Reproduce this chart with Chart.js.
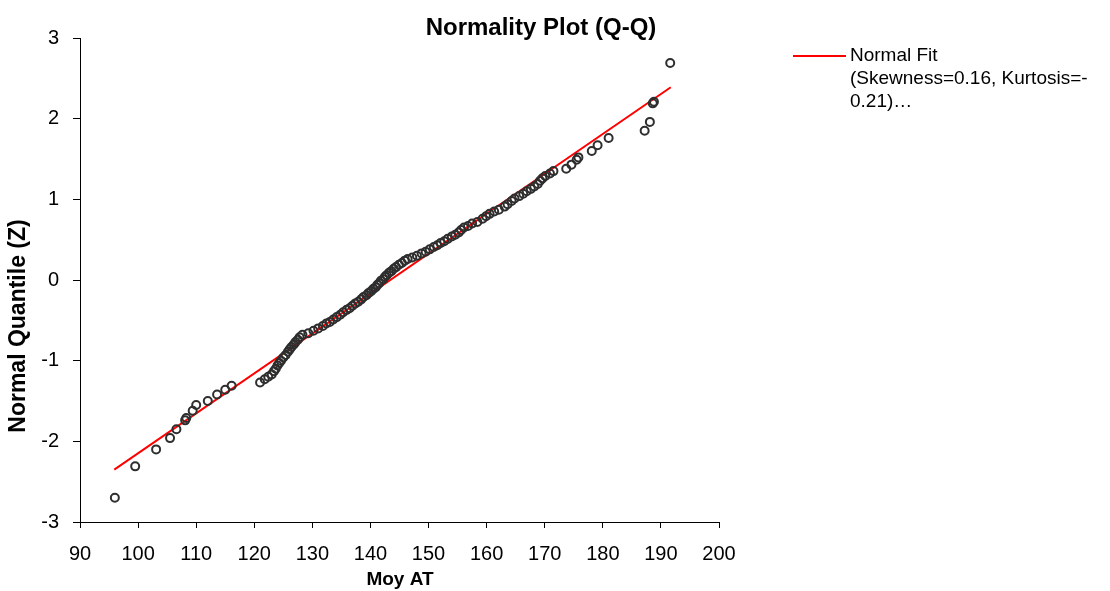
<!DOCTYPE html>
<html>
<head>
<meta charset="utf-8">
<script src="https://cdn.jsdelivr.net/npm/chart.js@4.4.1/dist/chart.umd.min.js"></script>
<style>
  html, body { margin: 0; padding: 0; background: #fff; }
  #wrap { position: relative; width: 1110px; height: 591px; }
</style>
</head>
<body>
<div id="wrap"><canvas id="qq" width="1110" height="591"></canvas></div>
<script>
// valeurs (Moy AT vs quantile normal)
var qqX = [
  96.0, 99.5, 103.1, 105.5, 106.6, 108.1, 108.3, 109.4, 110.0, 112.0,
  113.6, 115.0, 116.1, 121.0, 121.8, 122.4, 123.0, 123.4, 123.7, 124.0,
  124.3, 124.6, 125.0, 125.4, 125.8, 126.1, 126.4, 126.8, 127.1, 127.5,
  127.8, 128.3, 129.3, 130.2, 131.0, 131.8, 132.4, 133.0, 133.6, 134.2,
  134.8, 135.3, 135.9, 136.4, 136.9, 137.4, 137.9, 138.4, 138.8, 139.3,
  139.7, 140.1, 140.5, 140.9, 141.2, 141.5, 141.8, 142.2, 142.5, 142.8,
  143.2, 143.6, 144.0, 144.4, 144.9, 145.4, 145.9, 146.4, 147.2, 148.0,
  148.8, 149.5, 150.2, 150.9, 151.5, 152.1, 152.7, 153.3, 154.0, 154.6,
  155.2, 155.6, 156.1, 156.8, 157.5, 158.4, 159.3, 159.9, 160.5, 161.3,
  162.1, 163.1, 163.6, 164.3, 164.8, 165.6, 166.3, 166.9, 167.6, 168.2,
  168.8, 169.2, 169.6, 170.1, 170.9, 171.5, 173.7, 174.6, 175.5, 175.8,
  178.1, 179.1, 181.0, 187.2, 188.1, 188.6, 188.8, 191.6
];
var qqY = [
  -2.70, -2.31, -2.10, -1.96, -1.85, -1.74, -1.71, -1.62, -1.55, -1.50,
  -1.42, -1.36, -1.31, -1.27, -1.23, -1.20, -1.17, -1.13, -1.10, -1.06,
  -1.03, -1.00, -0.96, -0.93, -0.89, -0.86, -0.83, -0.80, -0.77, -0.74,
  -0.71, -0.68, -0.66, -0.63, -0.60, -0.57, -0.54, -0.52, -0.49, -0.46,
  -0.43, -0.40, -0.37, -0.35, -0.32, -0.29, -0.27, -0.24, -0.21, -0.19,
  -0.16, -0.14, -0.11, -0.09, -0.06, -0.04, -0.01, 0.01, 0.04, 0.06,
  0.09, 0.11, 0.14, 0.16, 0.19, 0.21, 0.24, 0.26, 0.28, 0.30,
  0.33, 0.35, 0.38, 0.41, 0.43, 0.46, 0.48, 0.51, 0.54, 0.56,
  0.59, 0.62, 0.65, 0.67, 0.70, 0.72, 0.76, 0.79, 0.82, 0.85,
  0.87, 0.91, 0.94, 0.98, 1.01, 1.04, 1.07, 1.10, 1.13, 1.16,
  1.19, 1.23, 1.26, 1.29, 1.32, 1.35, 1.38, 1.43, 1.49, 1.52,
  1.60, 1.67, 1.76, 1.85, 1.96, 2.19, 2.21, 2.69
];
// droite d'ajustement normal
var fitX = [95.9, 191.7];
var fitY = [-2.35, 2.39];
var xTicks = [90, 100, 110, 120, 130, 140, 150, 160, 170, 180, 190, 200];
var yTicks = [-3, -2, -1, 0, 1, 2, 3];

var FONT = '"Liberation Sans", Arial, sans-serif';

function pairs(xs, ys) {
  return xs.map(function (x, i) { return { x: x, y: ys[i] }; });
}

var textPlugin = {
  id: "qqText",
  afterDraw: function (chart) {
    var ctx = chart.ctx;
    ctx.save();
    ctx.fillStyle = "#000";
    ctx.textAlign = "center";
    ctx.textBaseline = "middle";
    ctx.font = "bold 24px " + FONT;
    ctx.fillText("Normality Plot (Q-Q)", 541, 28);
    ctx.font = "bold 19px " + FONT;
    ctx.fillText("Moy AT", 400, 580);
    ctx.save();
    ctx.translate(19, 326);
    ctx.rotate(-Math.PI / 2);
    ctx.font = "bold 23px " + FONT;
    ctx.fillText("Normal Quantile (Z)", 0, 0);
    ctx.restore();

    // légende
    ctx.strokeStyle = "#ff0000";
    ctx.lineWidth = 2;
    ctx.beginPath();
    ctx.moveTo(793, 56);
    ctx.lineTo(846, 56);
    ctx.stroke();
    ctx.font = "19px " + FONT;
    ctx.textAlign = "left";
    ctx.fillText("Normal Fit", 850, 56);
    ctx.fillText("(Skewness=0.16, Kurtosis=-", 850, 79);
    ctx.fillText("0.21)\u2026", 850, 102);
    ctx.restore();
  }
};

new Chart(document.getElementById("qq"), {
  type: "scatter",
  data: {
    datasets: [
      {
        label: "Points",
        data: pairs(qqX, qqY),
        pointStyle: "circle",
        pointRadius: 4,
        pointBorderWidth: 2,
        borderColor: "#2e2e2e",
        backgroundColor: "rgba(0,0,0,0)",
        order: 0
      },
      {
        type: "line",
        label: "Normal Fit (Skewness=0.16, Kurtosis=-0.21)",
        data: pairs(fitX, fitY),
        borderColor: "#ff0000",
        borderWidth: 2,
        pointRadius: 0,
        fill: false,
        order: 1
      }
    ]
  },
  options: {
    responsive: false,
    animation: false,
    layout: { padding: { top: 38, right: 391, left: 0, bottom: 0 } },
    plugins: { legend: { display: false }, tooltip: { enabled: false }, title: { display: false } },
    scales: {
      x: {
        type: "linear", min: 90, max: 200,
        afterBuildTicks: function (s) { s.ticks = xTicks.map(function (v) { return { value: v }; }); },
        afterFit: function (s) { s.height = 69; },
        ticks: { color: "#000", font: { family: FONT, size: 20 }, padding: 14, maxRotation: 0 },
        grid: { drawOnChartArea: false, drawTicks: true, tickLength: 6, color: "#000" },
        border: { display: true, color: "#000", width: 1 }
      },
      y: {
        type: "linear", min: -3, max: 3,
        afterBuildTicks: function (s) { s.ticks = yTicks.map(function (v) { return { value: v }; }); },
        afterFit: function (s) { s.width = 80; },
        ticks: { color: "#000", font: { family: FONT, size: 20 }, padding: 14 },
        grid: { drawOnChartArea: false, drawTicks: true, tickLength: 7, color: "#000" },
        border: { display: true, color: "#000", width: 1 }
      }
    }
  },
  plugins: [textPlugin]
});
</script>
</body>
</html>
